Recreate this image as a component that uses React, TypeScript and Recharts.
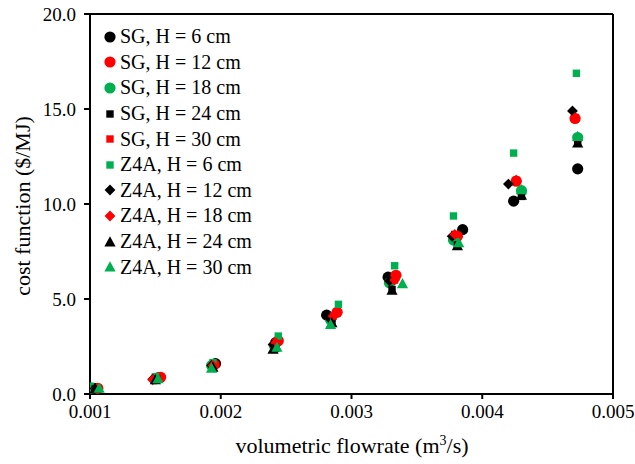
import React from 'react';
import { ScatterChart, Scatter, XAxis, YAxis, ReferenceLine } from 'recharts';

const xTicks = [0.001, 0.002, 0.003, 0.004, 0.005];
const yTicks = [0, 5, 10, 15, 20];

const sgH6X = [0.00103, 0.00152, 0.00196, 0.00242, 0.00281, 0.00328, 0.00385, 0.00424, 0.00473];
const sgH6Y = [0.3, 0.85, 1.6, 2.7, 4.15, 6.15, 8.65, 10.15, 11.85];
const sgH12X = [0.00106, 0.00154, 0.00195, 0.00244, 0.00289, 0.00334, 0.00381, 0.00426, 0.00471];
const sgH12Y = [0.3, 0.88, 1.55, 2.8, 4.3, 6.25, 8.3, 11.2, 14.5];
const sgH18X = [0.00101, 0.0015, 0.00193, 0.00241, 0.00284, 0.00329, 0.00378, 0.0043, 0.00473];
const sgH18Y = [0.32, 0.8, 1.5, 2.55, 3.9, 5.85, 8.1, 10.7, 13.5];
const sgH24X = [0.00104, 0.00151, 0.00194, 0.00242, 0.00285, 0.00331, 0.00381, 0.0043, 0.00473];
const sgH24Y = [0.28, 0.78, 1.45, 2.4, 3.75, 5.5, 7.85, 10.4, 13.2];
const sgH30X = [0.00105, 0.00149, 0.00194, 0.00242, 0.00286, 0.00333, 0.00379, 0.00426, 0.00471];
const sgH30Y = [0.28, 0.75, 1.5, 2.7, 4.1, 6.0, 8.4, 11.25, 14.55];

const z4aH6X = [0.00105, 0.0015, 0.00194, 0.00244, 0.0029, 0.00333, 0.00378, 0.00424, 0.00472];
const z4aH6Y = [0.3, 0.9, 1.65, 3.05, 4.72, 6.75, 9.37, 12.68, 16.88];
const z4aH12X = [0.00104, 0.00148, 0.00193, 0.0024, 0.00283, 0.00329, 0.00377, 0.0042, 0.00469];
const z4aH12Y = [0.3, 0.78, 1.5, 2.6, 4.0, 5.95, 8.3, 11.05, 14.9];
const z4aH18X = [0.00105, 0.00148, 0.00194, 0.00242, 0.00286, 0.00333, 0.00379, 0.00426, 0.00471];
const z4aH18Y = [0.28, 0.75, 1.5, 2.7, 4.1, 6.0, 8.4, 11.25, 14.55];
const z4aH24X = [0.00104, 0.0015, 0.00194, 0.0024, 0.00285, 0.00331, 0.00381, 0.0043, 0.00473];
const z4aH24Y = [0.28, 0.75, 1.4, 2.35, 3.75, 5.45, 7.8, 10.45, 13.2];
const z4aH30X = [0.00107, 0.00152, 0.00193, 0.00243, 0.00284, 0.00339, 0.00382, 0.0043, 0.00473];
const z4aH30Y = [0.3, 0.8, 1.35, 2.45, 3.65, 5.8, 7.95, 10.75, 13.55];

const BLACK = '#000000';
const RED = '#FF0000';
const GREEN = '#00B050';

type Kind = 'circle' | 'square' | 'diamond' | 'triangle';

const seriesDefs: { name: string; xs: number[]; ys: number[]; kind: Kind; color: string }[] = [
  { name: 'SG, H = 6 cm', xs: sgH6X, ys: sgH6Y, kind: 'circle', color: BLACK },
  { name: 'SG, H = 12 cm', xs: sgH12X, ys: sgH12Y, kind: 'circle', color: RED },
  { name: 'SG, H = 18 cm', xs: sgH18X, ys: sgH18Y, kind: 'circle', color: GREEN },
  { name: 'SG, H = 24 cm', xs: sgH24X, ys: sgH24Y, kind: 'square', color: BLACK },
  { name: 'SG, H = 30 cm', xs: sgH30X, ys: sgH30Y, kind: 'square', color: RED },
  { name: 'Z4A, H = 6 cm', xs: z4aH6X, ys: z4aH6Y, kind: 'square', color: GREEN },
  { name: 'Z4A, H = 12 cm', xs: z4aH12X, ys: z4aH12Y, kind: 'diamond', color: BLACK },
  { name: 'Z4A, H = 18 cm', xs: z4aH18X, ys: z4aH18Y, kind: 'diamond', color: RED },
  { name: 'Z4A, H = 24 cm', xs: z4aH24X, ys: z4aH24Y, kind: 'triangle', color: BLACK },
  { name: 'Z4A, H = 30 cm', xs: z4aH30X, ys: z4aH30Y, kind: 'triangle', color: GREEN },
];

function Marker({ cx, cy, kind, color }: { cx: number; cy: number; kind: Kind; color: string }) {
  if (cx == null || cy == null) return null;
  if (kind === 'circle') return <circle cx={cx} cy={cy} r={5.6} fill={color} />;
  if (kind === 'square') return <rect x={cx - 3.7} y={cy - 3.7} width={7.4} height={7.4} fill={color} />;
  if (kind === 'diamond')
    return <polygon points={`${cx},${cy - 5.4} ${cx + 5.4},${cy} ${cx},${cy + 5.4} ${cx - 5.4},${cy}`} fill={color} />;
  return <polygon points={`${cx},${cy - 5.8} ${cx + 5.6},${cy + 4.4} ${cx - 5.6},${cy + 4.4}`} fill={color} />;
}

const FONT = '"Liberation Serif", "Times New Roman", serif';

function LegendBox() {
  return (
    <div style={{ position: 'absolute', left: 103, top: 24, fontFamily: FONT, fontSize: 20, color: '#000' }}>
      {seriesDefs.map((s) => (
        <div key={s.name} style={{ display: 'flex', alignItems: 'center', height: 25.6, whiteSpace: 'nowrap' }}>
          <svg width={14} height={14} style={{ marginRight: 3 }}>
            <Marker cx={7} cy={7} kind={s.kind} color={s.color} />
          </svg>
          <span>{s.name}</span>
        </div>
      ))}
    </div>
  );
}

export default function App() {
  return (
    <div style={{ position: 'absolute', left: 0, top: 0, width: 635, height: 464, background: '#fff' }}>
      <ScatterChart width={635} height={464} margin={{ top: 14, right: 22, left: 0, bottom: 0 }}>
        <XAxis
          type="number"
          dataKey="x"
          domain={[0.001, 0.005]}
          ticks={xTicks}
          tickFormatter={(v: number) => v.toFixed(3)}
          height={70}
          stroke="#000"
          strokeWidth={2}
          tickSize={5}
          tickMargin={6}
          tick={{ fill: '#000', fontSize: 19, fontFamily: FONT }}
          allowDataOverflow
          label={{
            content: () => (
              <text x={352} y={453} textAnchor="middle" fontFamily={FONT} fontSize={22} fill="#000">
                volumetric flowrate (m<tspan dy={-8} fontSize={14}>3</tspan>
                <tspan dy={8}>/s)</tspan>
              </text>
            ),
          }}
        />
        <YAxis
          type="number"
          dataKey="y"
          domain={[0, 20]}
          ticks={yTicks}
          tickFormatter={(v: number) => v.toFixed(1)}
          width={90}
          stroke="#000"
          strokeWidth={2}
          tickSize={6}
          tickMargin={8}
          tick={{ fill: '#000', fontSize: 19, fontFamily: FONT }}
          allowDataOverflow
          label={{
            content: () => (
              <text
                x={22}
                y={206}
                transform="rotate(-90 22 206)"
                textAnchor="middle"
                dominantBaseline="central"
                fontFamily={FONT}
                fontSize={22}
                fill="#000"
              >
                cost function ($/MJ)
              </text>
            ),
          }}
        />
        <ReferenceLine y={20} stroke="#000" strokeWidth={2} />
        <ReferenceLine x={0.005} stroke="#000" strokeWidth={2} />
        {seriesDefs.map((s) => (
          <Scatter
            key={s.name}
            name={s.name}
            data={s.xs.map((x, i) => ({ x, y: s.ys[i] }))}
            isAnimationActive={false}
            shape={(p: any) => <Marker cx={p.cx} cy={p.cy} kind={s.kind} color={s.color} />}
          />
        ))}
      </ScatterChart>
      <LegendBox />
    </div>
  );
}
